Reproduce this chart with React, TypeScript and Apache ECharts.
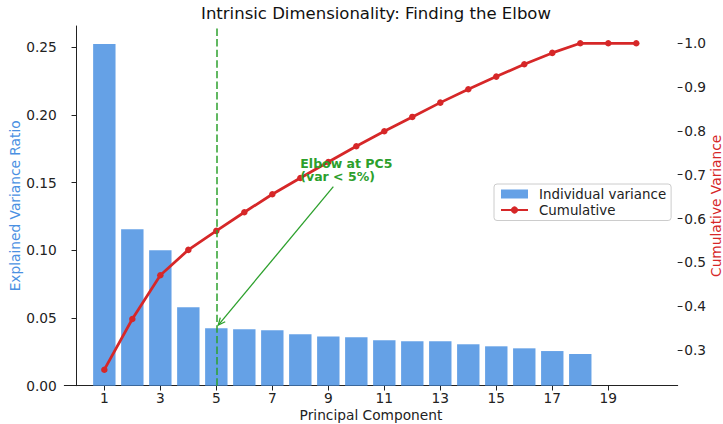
import React, { useEffect, useRef } from "react";
import * as echarts from "echarts";

// Principal components 1..20
const components = [1, 2, 3, 4, 5, 6, 7, 8, 9, 10, 11, 12, 13, 14, 15, 16, 17, 18, 19, 20];
// Explained variance ratio per component
const explainedRatio = [
  0.2524, 0.1155, 0.1, 0.0579, 0.0424, 0.0417, 0.0409, 0.038, 0.0363, 0.0357,
  0.0335, 0.0328, 0.0328, 0.0306, 0.0291, 0.0276, 0.0256, 0.0234, 0, 0,
];
// Cumulative explained variance
const cumulative = [
  0.255, 0.3708, 0.4705, 0.5285, 0.5719, 0.6144, 0.6555, 0.6927, 0.7292, 0.7651,
  0.7993, 0.832, 0.8646, 0.8952, 0.924, 0.9523, 0.9781, 1.0, 1.0, 1.0,
];
const xTicks = [1, 3, 5, 7, 9, 11, 13, 15, 17, 19];
const leftTicks = [0, 0.05, 0.1, 0.15, 0.2, 0.25];
const rightTicks = [0.3, 0.4, 0.5, 0.6, 0.7, 0.8, 0.9, 1.0];

const elbowPC = 5;
const elbowLabel = "Elbow at PC5\n(var < 5%)";
const labelAnchor = [8, 0.15];
const arrowTail = [9.18, 0.147];
const arrowTip = [5.07, 0.0448];

const FONT = "DejaVu Sans";
const FS = 13.75;
const BAR_BLUE = "rgba(74,144,226,0.85)";
const AXIS_BLUE = "#4A90E2";
const RED = "#d62728";
const GREEN = "#2ca02c";
const INK = "#222";

export default function App() {
  const ref = useRef<HTMLDivElement>(null);

  useEffect(() => {
    if (!ref.current) return;
    document.body.style.margin = "0";
    const chart = echarts.init(ref.current, undefined, { renderer: "svg" });

    chart.setOption({
      animation: false,
      backgroundColor: "#fff",
      title: {
        text: "Intrinsic Dimensionality: Finding the Elbow",
        left: 371,
        top: 0,
        textAlign: "center",
        textStyle: { fontFamily: FONT, fontSize: 16.5, fontWeight: "normal", color: "#111" },
      },
      grid: {
        left: 64.3,
        right: 45.3,
        top: 26,
        bottom: 38.3,
        containLabel: false,
        outerBoundsMode: "none",
      },
      legend: {
        orient: "vertical",
        left: 494,
        top: 184,
        padding: [3.5, 5, 4, 6],
        itemGap: 3,
        itemWidth: 27,
        itemHeight: 9,
        backgroundColor: "rgba(255,255,255,0.8)",
        borderColor: "#cccccc",
        borderWidth: 1,
        borderRadius: 3,
        textStyle: { fontFamily: FONT, fontSize: 13.4, color: INK, padding: [0, 0, 0, 6] },
        data: [
          { name: "Individual variance", icon: "rect" },
          { name: "Cumulative" },
        ],
      },
      xAxis: {
        type: "value",
        min: -0.43,
        max: 21.48,
        name: "Principal Component",
        nameLocation: "middle",
        nameGap: 22,
        nameMoveOverlap: false,
        nameTextStyle: { fontFamily: FONT, fontSize: FS, color: INK },
        axisLine: { show: true, lineStyle: { color: "#222", width: 1 } },
        axisTick: { show: true, length: 4.8, customValues: xTicks, lineStyle: { color: "#222" } },
        axisLabel: {
          customValues: xTicks,
          margin: 5,
          fontFamily: FONT,
          fontSize: FS,
          color: INK,
          formatter: (v: number) => String(Math.round(v)),
        },
        splitLine: { show: false },
      },
      yAxis: [
        {
          type: "value",
          min: 0,
          max: 0.2657,
          name: "Explained Variance Ratio",
          nameLocation: "middle",
          nameGap: 42,
          nameMoveOverlap: false,
          nameTextStyle: { fontFamily: FONT, fontSize: FS, color: AXIS_BLUE },
          axisLine: { show: true, lineStyle: { color: "#222", width: 1 } },
          axisTick: { show: true, length: 4.8, customValues: leftTicks, lineStyle: { color: "#222" } },
          axisLabel: {
            customValues: leftTicks,
            margin: 7.5,
            fontFamily: FONT,
            fontSize: FS,
            color: INK,
            formatter: (v: number) => v.toFixed(2),
          },
          splitLine: { show: false },
        },
        {
          type: "value",
          position: "right",
          min: 0.2185,
          max: 1.0395,
          name: "Cumulative Variance",
          nameLocation: "middle",
          nameGap: 31,
          nameMoveOverlap: false,
          nameTextStyle: { fontFamily: FONT, fontSize: FS, color: RED },
          axisLine: { show: false },
          axisTick: { show: true, length: 4.8, customValues: rightTicks, lineStyle: { color: "#222" } },
          axisLabel: {
            customValues: rightTicks,
            margin: 6.5,
            fontFamily: FONT,
            fontSize: FS,
            color: INK,
            formatter: (v: number) => v.toFixed(1),
          },
          splitLine: { show: false },
        },
      ],
      series: [
        {
          name: "Individual variance",
          type: "bar",
          yAxisIndex: 0,
          barWidth: 22.4,
          itemStyle: { color: BAR_BLUE },
          data: components.map((c, i) => [c, explainedRatio[i]]),
          markLine: {
            silent: true,
            symbol: ["none", "none"],
            label: { show: false },
            lineStyle: { color: GREEN, type: [7.4, 3.2], width: 2, opacity: 0.75 },
            data: [{ xAxis: elbowPC }],
          },
          z: 1,
        },
        {
          name: "Cumulative",
          type: "line",
          yAxisIndex: 1,
          symbol: "circle",
          symbolSize: 6.5,
          lineStyle: { color: RED, width: 2.75 },
          itemStyle: { color: RED },
          data: components.map((c, i) => [c, cumulative[i]]),
          z: 3,
        },
      ],
    });

    // Annotation text and open-headed arrow, placed through the bar axes
    const toPx = (p: number[]) =>
      chart.convertToPixel({ xAxisIndex: 0, yAxisIndex: 0 }, p) as number[];
    const a = toPx(labelAnchor);
    const t0 = toPx(arrowTail);
    const t1 = toPx(arrowTip);
    const dx = t1[0] - t0[0];
    const dy = t1[1] - t0[1];
    const len = Math.hypot(dx, dy);
    const ux = dx / len;
    const uy = dy / len;
    const nx = -uy;
    const ny = ux;
    const L = 7;
    const W = 3.2;
    const w1 = [t1[0] - L * ux + W * nx, t1[1] - L * uy + W * ny];
    const w2 = [t1[0] - L * ux - W * nx, t1[1] - L * uy - W * ny];

    chart.setOption({
      graphic: [
        {
          type: "line",
          z: 10,
          shape: { x1: t0[0], y1: t0[1], x2: t1[0], y2: t1[1] },
          style: { stroke: GREEN, lineWidth: 1.3 },
        },
        {
          type: "polyline",
          z: 10,
          shape: { points: [w1, t1, w2] },
          style: { stroke: GREEN, lineWidth: 1.3, fill: null },
        },
        {
          type: "text",
          z: 10,
          x: a[0],
          y: a[1] + 1,
          style: {
            text: elbowLabel,
            fill: GREEN,
            font: `bold 12.5px "${FONT}"`,
            lineHeight: 13.5,
            textAlign: "left",
            textVerticalAlign: "bottom",
          },
        },
      ],
    });

    return () => chart.dispose();
  }, []);

  return <div ref={ref} style={{ width: 723, height: 424 }} />;
}
